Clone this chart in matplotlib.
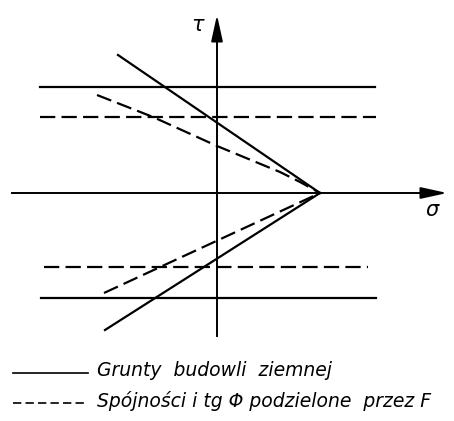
import matplotlib.pyplot as plt

plt.rcParams['lines.scale_dashes'] = False

# values (origin = crossing of the axes)
apex_sigma = 103
c_solid = [106, -105]
c_dashed = [76, -74]
h_solid_x = [[-177, 158], [-176, 159]]
h_dashed_x = [[-177, 159], [-173, 151]]

up_solid_x = [-99, 103]
up_solid_y = [138, 0]
low_solid_x = [-112, 103]
low_solid_y = [-137, 0]

up_dash_x = [-120, -64, 0, 63, 83, 103]
up_dash_y = [98, 76, 47, 21, 11, 0]
low_dash_x = [-113, 103]
low_dash_y = [-100, 0]

legend_labels = ["Grunty  budowli  ziemnej", "Spójności i tg \u03a6 podzielone  przez F"]

fig = plt.figure(figsize=(4.54, 4.21), dpi=100)
ax = fig.add_axes([0, 0, 1, 1])
ax.set_xlim(-217, 237)
ax.set_ylim(-228, 193)
ax.axis('off')

lw = 1.6
dash = (0, (11, 4.5))

# axes with arrows
ax.plot([-205, 215], [0, 0], color='black', lw=1.4)
ax.plot([0, 0], [-143, 160], color='black', lw=1.4)
ax.annotate('', xy=(233, 0), xytext=(205, 0),
            arrowprops=dict(arrowstyle='-|>,head_length=1.6,head_width=0.35', color='black', lw=1.4))
ax.annotate('', xy=(0, 181), xytext=(0, 155),
            arrowprops=dict(arrowstyle='-|>,head_length=1.6,head_width=0.35', color='black', lw=1.4))
ax.text(-19, 168, '\u03c4', fontsize=15, ha='center', va='center', style='italic')
ax.text(215, -17, '\u03c3', fontsize=15, ha='center', va='center', style='italic')

# horizontal limit lines
for c, xs in zip(c_solid, h_solid_x):
    ax.plot(xs, [c, c], color='black', lw=lw)
for c, xs in zip(c_dashed, h_dashed_x):
    ax.plot(xs, [c, c], color='black', lw=lw, linestyle=dash)

# inclined lines
ax.plot(up_solid_x, up_solid_y, color='black', lw=lw)
ax.plot(low_solid_x, low_solid_y, color='black', lw=lw)
ax.plot(up_dash_x, up_dash_y, color='black', lw=lw, linestyle=dash)
ax.plot(low_dash_x, low_dash_y, color='black', lw=lw, linestyle=dash)

# legend drawn by hand
ax.plot([-204, -129], [-180, -180], color='black', lw=1.2)
ax.plot([-204, -129], [-210, -210], color='black', lw=1.2, linestyle=(0, (6, 3)))
ax.text(-120, -178, legend_labels[0], fontsize=13.5, style='italic', va='center',
        family='DejaVu Sans')
ax.text(-120, -208, legend_labels[1], fontsize=13.5, style='italic', va='center',
        family='DejaVu Sans')

fig.savefig('out.png', dpi=100)
